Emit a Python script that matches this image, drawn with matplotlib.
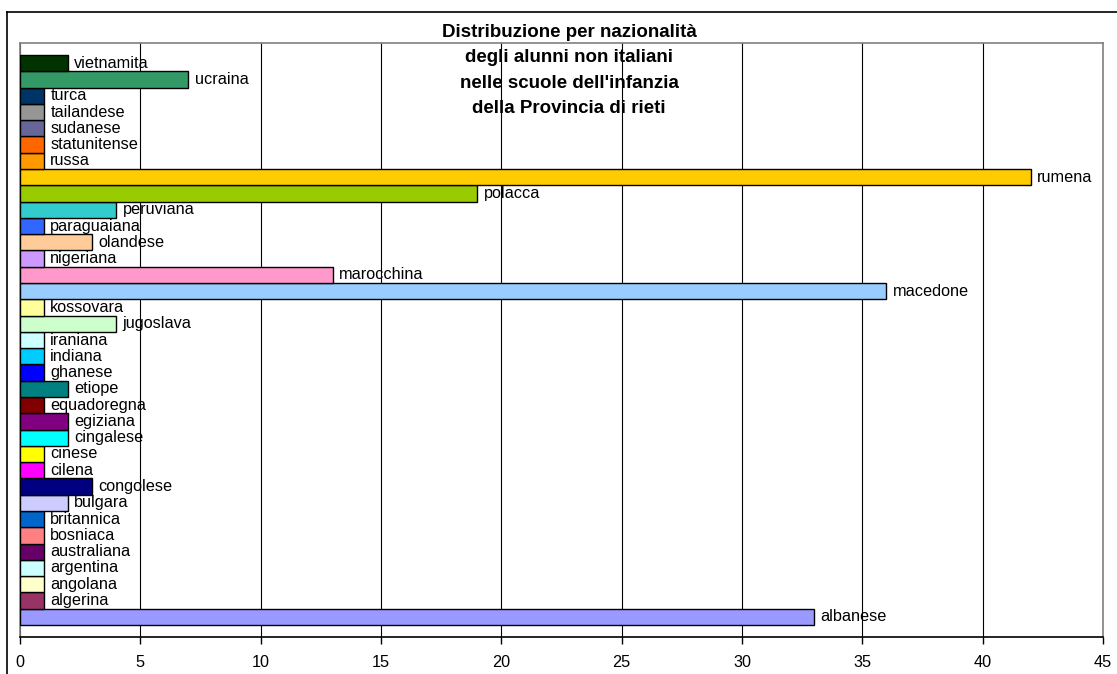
import matplotlib
matplotlib.use("Agg")
import matplotlib.pyplot as plt
from matplotlib.lines import Line2D

# Data (bottom to top)
nationalities = ["albanese", "algerina", "angolana", "argentina", "australiana",
                 "bosniaca", "britannica", "bulgara", "congolese", "cilena",
                 "cinese", "cingalese", "egiziana", "equadoregna", "etiope",
                 "ghanese", "indiana", "iraniana", "jugoslava", "kossovara",
                 "macedone", "marocchina", "nigeriana", "olandese", "paraguaiana",
                 "peruviana", "polacca", "rumena", "russa", "statunitense",
                 "sudanese", "tailandese", "turca", "ucraina", "vietnamita"]
counts = [33, 1, 1, 1, 1,
          1, 1, 2, 3, 1,
          1, 2, 2, 1, 2,
          1, 1, 1, 4, 1,
          36, 13, 1, 3, 1,
          4, 19, 42, 1, 1,
          1, 1, 1, 7, 2]
colors = ["#9999FF", "#993366", "#FFFFCC", "#CCFFFF", "#660066",
          "#FF8080", "#0066CC", "#CCCCFF", "#000080", "#FF00FF",
          "#FFFF00", "#00FFFF", "#800080", "#800000", "#008080",
          "#0000FF", "#00CCFF", "#CCFFFF", "#CCFFCC", "#FFFF99",
          "#99CCFF", "#FF99CC", "#CC99FF", "#FFCC99", "#3366FF",
          "#33CCCC", "#99CC00", "#FFCC00", "#FF9900", "#FF6600",
          "#666699", "#969696", "#003366", "#339966", "#003300"]
xticks = [0, 5, 10, 15, 20, 25, 30, 35, 40, 45]
title = ("Distribuzione per nazionalità\ndegli alunni non italiani\n"
         "nelle scuole dell'infanzia\ndella Provincia di rieti")

plt.rcParams['font.family'] = ['Liberation Sans', 'DejaVu Sans']

W, H = 1117, 674
fig = plt.figure(figsize=(W / 100, H / 100), dpi=100)
fig.patch.set_facecolor("white")

left, right, top, bottom = 20, 1103, 43, 637
ax = fig.add_axes([left / W, 1 - bottom / H, (right - left) / W, (bottom - top) / H])

pos = list(range(len(nationalities)))
ax.barh(pos, counts, height=1.0, color=colors, edgecolor="black", linewidth=1.0, zorder=3)

for p, v, name in zip(pos, counts, nationalities):
    ax.annotate(name, (v, p), xytext=(4.5, 0), textcoords="offset points",
                va="center", ha="left", fontsize=11.7, color="black", zorder=5)

gap = 0.74
ax.set_ylim(-0.5 - gap, len(nationalities) - 0.5 + gap)
ax.set_xlim(0, 45)
ax.set_xticks(xticks)
ax.set_xticklabels([str(t) for t in xticks], fontsize=11.7)
ax.set_yticks([])
ax.tick_params(axis="x", direction="out", length=5, width=1, pad=8, colors="black")
ax.xaxis.grid(True, color="black", linewidth=0.8, zorder=0)
ax.set_axisbelow(True)

ax.spines["top"].set_color("#808080")
ax.spines["right"].set_color("#808080")
ax.spines["left"].set_color("#808080")
ax.spines["bottom"].set_color("black")
for s in ax.spines.values():
    s.set_linewidth(1.2)

# Outer chart frame (top and left)
fig.add_artist(Line2D([7 / W, 1.0], [1 - 12 / H, 1 - 12 / H], transform=fig.transFigure,
                      color="black", linewidth=1.2))
fig.add_artist(Line2D([7 / W, 7 / W], [1 - 12 / H, 0.0], transform=fig.transFigure,
                      color="black", linewidth=1.2))

fig.text(569 / W, 1 - 24 / H, title, ha="center", va="top", fontsize=13.5,
         fontweight="bold", linespacing=1.65, zorder=10)

fig.savefig("out.png", dpi=100)
